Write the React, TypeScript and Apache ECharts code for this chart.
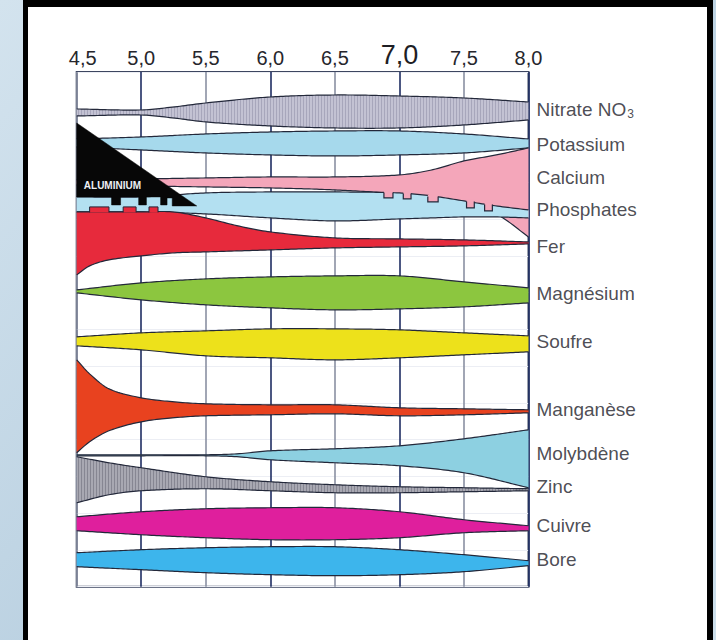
import React, { useEffect, useRef } from 'react';
import * as echarts from 'echarts';

// pH ticks on the top axis
const PH_TICKS = [4.5, 5.0, 5.5, 6.0, 6.5, 7.0, 7.5, 8.0];

// Band edges (vertical units, 0 = top of frame, grows downwards)
const nitratePH = [4.5, 5.0, 5.25, 5.5, 6.0, 6.5, 7.0, 7.5, 8.0];
const nitrateTop = [37, 38, 35, 31, 25, 23, 24, 26, 30];
const nitrateBottom = [44, 43, 46, 50, 54, 56, 56, 53, 48];

const potassiumPH = [4.5, 5.0, 5.5, 6.0, 6.5, 7.0, 7.5, 8.0];
const potassiumTop = [67, 65, 62, 60, 59, 59, 62, 67];
const potassiumBottom = [75, 78, 81, 83, 84, 83, 81, 76];

const calciumPH = [4.5, 5.0, 5.5, 6.0, 6.5, 7.0, 7.25, 7.5, 7.75, 8.0];
const calciumTop = [108, 107, 106, 105, 105, 103, 98, 89, 83, 76];
const calciumBottom = [113, 114, 115, 116, 118, 122, 126, 132, 142, 165];

const phosphatesPH = [4.5, 5.0, 5.5, 6.0, 6.5, 7.0, 7.25, 7.5, 7.75, 8.0];
const phosphatesTop = [125, 125, 121, 120, 120, 121, 124, 129, 134, 138];
const phosphatesBottom = [140, 140, 142, 146, 149, 147, 146, 145, 145, 146];

const ferPH = [4.5, 4.6, 4.75, 5.0, 5.25, 5.5, 5.75, 6.0, 6.5, 7.0, 7.5, 8.0];
const ferTop = [140, 140, 140, 140, 140, 146, 154, 160, 166, 167, 168, 170];
const ferBottom = [203, 194, 188, 184, 181, 180, 179, 178, 176, 175, 174, 172];

const magnesiumPH = [4.5, 5.0, 5.5, 6.0, 6.5, 7.0, 7.5, 8.0];
const magnesiumTop = [218, 211, 207, 205, 204, 204, 210, 216];
const magnesiumBottom = [221, 228, 233, 236, 238, 237, 235, 231];

const soufrePH = [4.5, 5.0, 5.5, 6.0, 6.5, 7.0, 7.5, 8.0];
const soufreTop = [265, 261, 259, 257, 257, 258, 261, 264];
const soufreBottom = [274, 278, 284, 286, 288, 286, 283, 280];

const manganesePH = [4.5, 4.6, 4.75, 5.0, 5.25, 5.5, 6.0, 6.5, 7.0, 7.5, 8.0];
const manganeseTop = [288, 302, 317, 326, 330, 332, 333, 333, 336, 337, 338];
const manganeseBottom = [381, 370, 359, 350, 346, 344, 343, 342, 344, 343, 341];

const molybdenePH = [4.5, 5.0, 5.5, 5.75, 6.0, 6.5, 7.0, 7.5, 8.0];
const molybdeneTop = [383, 383, 383, 382, 379, 377, 374, 367, 358];
const molybdeneBottom = [384, 384, 384, 385, 388, 391, 394, 401, 416];

const zincPH = [4.5, 4.75, 5.0, 5.5, 6.0, 6.5, 7.0, 7.5, 8.0];
const zincTop = [385, 391, 396, 405, 410, 413, 415, 416, 417];
const zincBottom = [431, 423, 419, 417, 419, 421, 421, 420, 419];

const cuivrePH = [4.5, 5.0, 5.5, 6.0, 6.5, 7.0, 7.5, 8.0];
const cuivreTop = [445, 440, 437, 436, 436, 440, 448, 454];
const cuivreBottom = [459, 463, 466, 468, 468, 466, 461, 459];

const borePH = [4.5, 5.0, 5.5, 6.0, 6.5, 7.0, 7.5, 8.0];
const boreTop = [481, 478, 476, 475, 475, 478, 483, 489];
const boreBottom = [495, 498, 501, 503, 504, 503, 500, 494];

// Names and where their labels sit (vertical units)
const NAMES = ['Nitrate NO3', 'Potassium', 'Calcium', 'Phosphates', 'Fer', 'Magnésium', 'Soufre', 'Manganèse', 'Molybdène', 'Zinc', 'Cuivre', 'Bore'];
const LABEL_Y = [38, 73, 105.5, 138, 175, 222, 270, 338, 382, 415, 454, 487.5];

// Aluminium toxicity wedge (pH, vertical units)
const aluPH = [4.5, 5.43, 5.24, 5.24, 5.2, 5.2, 5.15, 5.15, 5.04, 5.04, 4.98, 4.98, 4.84, 4.84, 4.77, 4.77, 4.5];
const aluY = [51, 134, 134, 126, 126, 133, 133, 125, 125, 133, 133, 125, 125, 133, 133, 125, 125];

// Iron teeth [pH start, pH end, top, bottom]
const ferTeeth = [[4.6, 4.75, 135, 140.5], [4.86, 4.96, 135, 140.5], [5.06, 5.13, 135, 140.5]];
// Calcium teeth reaching into phosphates
const calciumTeeth = [[6.88, 6.95, 119, 126], [7.03, 7.09, 120, 127], [7.22, 7.3, 123, 130], [7.52, 7.58, 128, 136], [7.66, 7.72, 131, 139]];

const COLORS = ['#bdbccb', '#a6d9ec', '#f4a6ba', '#b3e0f1', '#e72a3c', '#8cc63f', '#ede11b', '#e8421f', '#8dd0e1', '#a0a0ab', '#df1f9d', '#3db5ec'];
// Hatched bands: [band index, base colour, stripe colour]
const HATCH: [number, string, string][] = [[0, '#c3c2d3', '#a7a6bb'], [9, '#a8a8b2', '#868692']];

const BANDS = [
  { ph: nitratePH, top: nitrateTop, bottom: nitrateBottom },
  { ph: potassiumPH, top: potassiumTop, bottom: potassiumBottom },
  { ph: calciumPH, top: calciumTop, bottom: calciumBottom },
  { ph: phosphatesPH, top: phosphatesTop, bottom: phosphatesBottom },
  { ph: ferPH, top: ferTop, bottom: ferBottom },
  { ph: magnesiumPH, top: magnesiumTop, bottom: magnesiumBottom },
  { ph: soufrePH, top: soufreTop, bottom: soufreBottom },
  { ph: manganesePH, top: manganeseTop, bottom: manganeseBottom },
  { ph: molybdenePH, top: molybdeneTop, bottom: molybdeneBottom },
  { ph: zincPH, top: zincTop, bottom: zincBottom },
  { ph: cuivrePH, top: cuivreTop, bottom: cuivreBottom },
  { ph: borePH, top: boreTop, bottom: boreBottom },
];

const FONT = '"Liberation Sans", Arial, sans-serif';
const EDGE = '#23283a';

// Cardinal (Catmull-Rom) curve through the read points (drawing only, like smooth: true)
function spline(xs: number[], ys: number[]) {
  const n = xs.length;
  const m: number[] = [];
  for (let i = 0; i < n; i++) {
    if (i === 0) m[i] = (ys[1] - ys[0]) / (xs[1] - xs[0]);
    else if (i === n - 1) m[i] = (ys[n - 1] - ys[n - 2]) / (xs[n - 1] - xs[n - 2]);
    else m[i] = (ys[i + 1] - ys[i - 1]) / (xs[i + 1] - xs[i - 1]);
  }
  return (x: number) => {
    let i = 0;
    while (i < n - 2 && x > xs[i + 1]) i++;
    const h = xs[i + 1] - xs[i];
    const t = (x - xs[i]) / h;
    const t2 = t * t;
    const t3 = t2 * t;
    return (2 * t3 - 3 * t2 + 1) * ys[i] + (t3 - 2 * t2 + t) * h * m[i] + (-2 * t3 + 3 * t2) * ys[i + 1] + (t3 - t2) * h * m[i + 1];
  };
}

function hatchPattern(base: string, stripe: string): any {
  try {
    const cv = document.createElement('canvas');
    cv.width = 3;
    cv.height = 3;
    const ctx = cv.getContext('2d');
    if (!ctx) return base;
    ctx.fillStyle = base;
    ctx.fillRect(0, 0, 3, 3);
    ctx.fillStyle = stripe;
    ctx.fillRect(0, 0, 1, 3);
    return { image: cv, repeat: 'repeat' };
  } catch (e) {
    return base;
  }
}

export default function App() {
  const ref = useRef<HTMLDivElement>(null);

  useEffect(() => {
    if (!ref.current) return;
    const chart = echarts.init(ref.current, null, { renderer: 'svg' });

    const fills: any[] = COLORS.slice();
    HATCH.forEach(([i, base, stripe]) => {
      fills[i] = hatchPattern(base, stripe);
    });

    const bandSeries = {
      type: 'custom',
      name: 'Nutriments',
      silent: true,
      z: 2,
      clip: true,
      data: BANDS.map((b, i) => [b.ph[0], b.top[0], i]),
      encode: { x: 0, y: 1 },
      renderItem: (params: any, api: any) => {
        const b = BANDS[params.dataIndex];
        const fTop = spline(b.ph, b.top);
        const fBot = spline(b.ph, b.bottom);
        const x0 = b.ph[0];
        const x1 = b.ph[b.ph.length - 1];
        const steps = Math.max(20, Math.round((x1 - x0) / 0.02));
        const topPts: number[][] = [];
        const botPts: number[][] = [];
        for (let k = 0; k <= steps; k++) {
          const x = x0 + ((x1 - x0) * k) / steps;
          topPts.push(api.coord([x, fTop(x)]));
          botPts.push(api.coord([x, fBot(x)]));
        }
        const poly = topPts.concat(botPts.slice().reverse());
        return {
          type: 'group',
          children: [
            { type: 'polygon', shape: { points: poly }, style: { fill: fills[params.dataIndex], stroke: null } },
            { type: 'polyline', shape: { points: topPts }, style: { stroke: EDGE, lineWidth: 1.2, fill: null } },
            { type: 'polyline', shape: { points: botPts }, style: { stroke: EDGE, lineWidth: 1.2, fill: null } },
          ],
        };
      },
    };

    const aluSeries = {
      type: 'custom',
      name: 'Aluminium',
      silent: true,
      z: 4,
      data: [[aluPH[0], aluY[0]]],
      encode: { x: 0, y: 1 },
      renderItem: (params: any, api: any) => {
        const c = (p: number, y: number) => api.coord([p, y]);
        const children: any[] = [];
        calciumTeeth.forEach(([a, b, t, bt]) => {
          const p1 = c(a, t);
          const p2 = c(b, bt);
          children.push({ type: 'rect', shape: { x: p1[0], y: p1[1], width: p2[0] - p1[0], height: p2[1] - p1[1] }, style: { fill: COLORS[2] } });
          children.push({ type: 'polyline', shape: { points: [c(a, t + 1.5), c(a, bt), c(b, bt), c(b, t + 1.5)] }, style: { stroke: EDGE, lineWidth: 1.2, fill: null } });
        });
        ferTeeth.forEach(([a, b, t, bt]) => {
          const p1 = c(a, t);
          const p2 = c(b, bt);
          children.push({ type: 'rect', shape: { x: p1[0], y: p1[1], width: p2[0] - p1[0], height: p2[1] - p1[1] }, style: { fill: COLORS[4] } });
          children.push({ type: 'polyline', shape: { points: [c(a, bt), c(a, t), c(b, t), c(b, bt)] }, style: { stroke: EDGE, lineWidth: 1, fill: null } });
        });
        children.push({
          type: 'polygon',
          shape: { points: aluPH.map((p, k) => c(p, aluY[k])) },
          style: { fill: '#070707', stroke: '#070707', lineWidth: 0.5 },
        });
        const tp = c(4.555, 114);
        children.push({
          type: 'text',
          x: tp[0],
          y: tp[1],
          style: { text: 'ALUMINIUM', fill: '#eef0f4', font: 'bold 10px ' + FONT, verticalAlign: 'middle', align: 'left' },
        });
        return { type: 'group', children };
      },
    };

    const labelSeries = {
      type: 'scatter',
      name: 'labels',
      silent: true,
      clip: false,
      z: 5,
      symbolSize: 0,
      data: NAMES.map((n, i) => ({ name: n, value: [8.0, LABEL_Y[i]] })),
      label: {
        show: true,
        position: 'right',
        distance: 8,
        fontSize: 19,
        fontFamily: FONT,
        color: '#202028',
        formatter: (p: any) => (p.name === 'Nitrate NO3' ? 'Nitrate NO{sub|3}' : p.name),
        rich: {
          sub: { fontSize: 12, fontFamily: FONT, color: '#202028', verticalAlign: 'bottom', padding: [9, 0, 0, 1] },
        },
      },
    };

    chart.setOption({
      animation: false,
      backgroundColor: 'transparent',
      grid: {
        left: 76.7,
        top: 72,
        width: 451.8,
        height: 514.7,
        show: true,
        borderColor: '#3d4660',
        borderWidth: 2,
        backgroundColor: 'transparent',
      },
      xAxis: {
        type: 'value',
        position: 'top',
        min: PH_TICKS[0],
        max: PH_TICKS[PH_TICKS.length - 1],
        interval: 0.5,
        axisLine: { show: false },
        axisTick: { show: false },
        axisLabel: {
          show: true,
          margin: 4,
          showMinLabel: true,
          showMaxLabel: true,
          fontSize: 20,
          fontFamily: FONT,
          color: '#26262c',
          formatter: (v: number) => {
            const s = v.toFixed(1).replace('.', ',');
            if (Math.abs(v - 7) < 1e-6) return '{big|' + s + '}';
            if (Math.abs(v - 4.5) < 1e-6) return '{first|' + s + '}';
            return s;
          },
          rich: {
            big: { fontSize: 27, fontFamily: FONT, color: '#1e1e24' },
            first: { fontSize: 20, fontFamily: FONT, color: '#26262c', padding: [0, 0, 0, 12] },
          },
        },
        splitLine: { show: true, lineStyle: { color: ['#8a90a2', '#1f2d62'], width: 1.6 } },
      },
      yAxis: {
        type: 'value',
        inverse: true,
        min: 0,
        max: 515,
        interval: 515 / 14,
        axisLine: { show: false },
        axisTick: { show: false },
        axisLabel: { show: false },
        splitLine: { show: true, lineStyle: { color: '#eceef4', width: 1 } },
      },
      series: [bandSeries, aluSeries, labelSeries],
    });

    return () => chart.dispose();
  }, []);

  return (
    <div style={{ position: 'absolute', left: 0, top: 0, width: 716, height: 640, overflow: 'hidden', background: 'linear-gradient(135deg, #d3e3ee 0%, #bcd2e2 50%, #cddfeb 100%)' }}>
      <div style={{ position: 'absolute', left: 23, top: 0, width: 690, height: 700, boxSizing: 'border-box', borderTop: '7px solid #000', borderLeft: '5px solid #000', borderRight: '6px solid #000', background: '#ffffff' }} />
      <div ref={ref} style={{ position: 'absolute', left: 0, top: 0, width: 716, height: 640 }} />
    </div>
  );
}
